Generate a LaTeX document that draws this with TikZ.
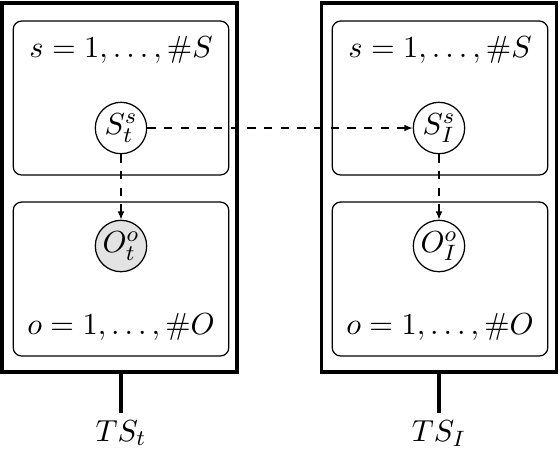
\documentclass[tikz,border=0pt]{standalone}
\usetikzlibrary{arrows.meta}
\begin{document}
\begin{tikzpicture}[x=0.36pt,y=-0.36pt,
  every node/.style={font=\fontsize{11.1}{13}\selectfont},
  outerbox/.style={draw, line width=1.2pt, minimum width=84.6pt, minimum height=132.8pt, inner sep=0pt},
  plate/.style={draw, line width=0.45pt, rounded corners=3pt, minimum width=77.6pt, minimum height=55.4pt, inner sep=0pt},
  var/.style={circle, draw, line width=0.45pt, minimum size=18.5pt, inner sep=0pt},
  obs/.style={var, fill=gray!22},
  dep/.style={-{Latex[length=3pt,width=2.4pt]}, dashed, line width=0.45pt},
  stem/.style={line width=1.2pt},
  lbl/.style={inner sep=0pt}]
\useasboundingbox (0,0) rectangle (560,450);
% left
\node[outerbox] (boxL) at (119.5,187.5) {};
\node[plate] (plSL) at (121,98) {};
\node[plate] (plOL) at (121,279) {};
\node[lbl] (sL) at (121,50) {$s=1,\ldots,\#S$};
\node[lbl] (oL) at (121,327) {$o=1,\ldots,\#O$};
\node[var] (St) at (121,128) {$S_t^s$};
\node[obs] (Ot) at (121,246) {$O_t^o$};
\coordinate (stemL) at (121,413);
\node[lbl, anchor=north] (TSt) at (121,420) {$TS_t$};
% right
\node[outerbox] (boxR) at (439,187.5) {};
\node[plate] (plSR) at (440,98) {};
\node[plate] (plOR) at (440,279) {};
\node[lbl] (sR) at (440,50) {$s=1,\ldots,\#S$};
\node[lbl] (oR) at (440,327) {$o=1,\ldots,\#O$};
\node[var] (SI) at (439,128) {$S_I^s$};
\node[var] (OI) at (439,246) {$O_I^o$};
\coordinate (stemR) at (439,413);
\node[lbl, anchor=north] (TSI) at (439,420) {$TS_I$};
% connectors
\draw[dep] (St) -- (Ot);
\draw[dep] (St) -- (SI);
\draw[dep] (SI) -- (OI);
\draw[stem] (boxL.south -| St) -- (stemL);
\draw[stem] (boxR.south -| SI) -- (stemR);
\end{tikzpicture}
\end{document}
